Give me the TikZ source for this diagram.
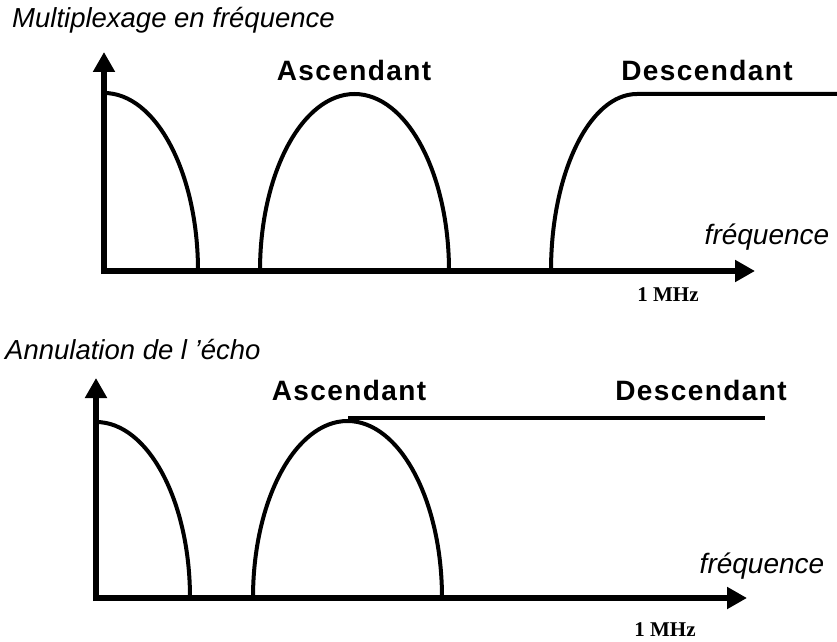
\documentclass[tikz,border=0pt]{standalone}
\usepackage{fontspec}
\setmainfont{Liberation Sans}
\newfontfamily\bandfont[LetterSpace=5.0]{Liberation Sans}
\newfontfamily\mhzfont{Liberation Serif}
\usetikzlibrary{arrows.meta}

\begin{document}
\begin{tikzpicture}[
  x=1pt, y=1pt,
  axis/.style={line width=6pt, -{Triangle[length=20pt, width=21pt]}},
  curve/.style={line width=4pt},
  heading/.style={anchor=west, inner sep=0pt, font=\fontsize{27.5}{30}\selectfont\itshape},
  band/.style={inner sep=0pt, font=\fontsize{28}{31}\selectfont\bandfont\bfseries},
  axlabel/.style={inner sep=0pt, font=\fontsize{28}{31}\selectfont\itshape},
  unit/.style={inner sep=0pt, font=\fontsize{21}{24}\selectfont\mhzfont\bfseries},
]
\useasboundingbox (0,0) rectangle (837,641);

% Multiplexage en frequence
\node[heading] (titleA) at (12,621) {Multiplexage en fréquence};
\coordinate (oyA) at (104,367);
\coordinate (tyA) at (104,589);
\coordinate (oxA) at (101,370);
\coordinate (txA) at (755,370);
\draw[axis] (oyA) -- (tyA);
\draw[axis] (oxA) -- (txA);
\draw[curve] (104,548) arc[start angle=90, end angle=0, x radius=94, y radius=178];
\draw[curve] (260,370) arc[start angle=180, end angle=0, x radius=94.5, y radius=177];
\draw[curve] (551,370) arc[start angle=180, end angle=90, x radius=86, y radius=177] -- (837,547);
\node[band] (ascA) at (354,571) {Ascendant};
\node[band] (descA) at (707,571) {Descendant};
\node[axlabel] (freqA) at (767,404) {fréquence};
\node[unit] (mhzA) at (668,346) {1 MHz};

% Annulation de l'echo
\node[heading] (titleB) at (5,291) {Annulation de l 'écho};
\coordinate (oyB) at (96,40);
\coordinate (tyB) at (96,263);
\coordinate (oxB) at (94,43);
\coordinate (txB) at (747,43);
\draw[axis] (oyB) -- (tyB);
\draw[axis] (oxB) -- (txB);
\draw[curve] (96,219) arc[start angle=90, end angle=0, x radius=94, y radius=176];
\draw[curve] (253,43) arc[start angle=180, end angle=0, x radius=94.5, y radius=177];
\draw[curve] (348,223) -- (765,223);
\node[band] (ascB) at (349,251) {Ascendant};
\node[band] (descB) at (701,251) {Descendant};
\node[axlabel] (freqB) at (762,75) {fréquence};
\node[unit] (mhzB) at (665,11) {1 MHz};

\end{tikzpicture}
\end{document}
